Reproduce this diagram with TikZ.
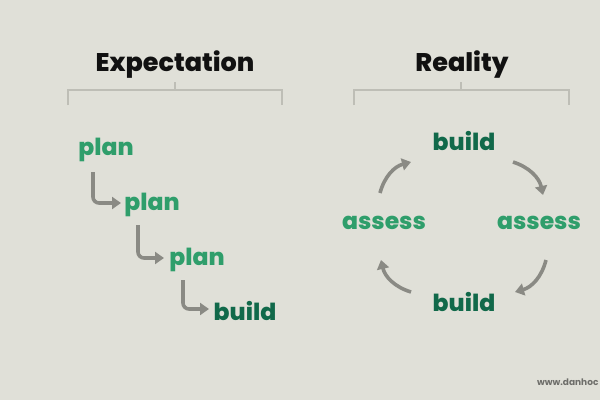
\documentclass[tikz,border=0pt]{standalone}
\usepackage{fontspec}
\setmainfont{Poppins}
\newfontfamily\heavyfont{Poppins ExtraBold}
\usetikzlibrary{arrows.meta}
\definecolor{dhBack}{HTML}{E0E0D8}
\definecolor{dhGreen}{HTML}{2F9E6B}
\definecolor{dhDark}{HTML}{11694A}
\definecolor{dhArrow}{HTML}{8A8A84}
\definecolor{dhRule}{HTML}{BEBEB6}
\definecolor{dhInk}{HTML}{111111}
\tikzset{
  title/.style={text=dhInk, font=\fontsize{25.5}{30}\heavyfont},
  planword/.style={text=dhGreen, font=\fontsize{23.5}{28}\heavyfont},
  buildword/.style={text=dhDark, font=\fontsize{23.5}{28}\heavyfont},
  bracket/.style={draw=dhRule, line width=1.2pt},
  flow/.style={draw=dhArrow, line width=3.6pt, rounded corners=6pt,
    -{Triangle[length=9pt,width=12pt]}},
  cycle/.style={draw=dhArrow, line width=3.6pt, bend left=30,
    -{Triangle[length=9pt,width=12pt]}}
}

\begin{document}
\begin{tikzpicture}[x=1pt, y=1pt]
    \fill[dhBack] (0,0) rectangle (600,400);
    \useasboundingbox (0,0) rectangle (600,400);

    % headings
    \node[title] (expect) at (175,335) {Expectation};
    \node[title] (real) at (462,335) {Reality};
    \draw[bracket] (68,295) |- (282,310) -- (282,295);
    \draw[bracket] (175,310) -- (175,318);
    \draw[bracket] (354,295) |- (569,310) -- (569,295);
    \draw[bracket] (461,310) -- (461,318);

    % expectation: a staircase
    \node[planword] (plan1) at (106,250) {plan};
    \node[planword] (plan2) at (152,195) {plan};
    \node[planword] (plan3) at (197,140) {plan};
    \node[buildword] (build1) at (245,89) {build};
    \draw[flow] ([shift={(-13,-22)}]plan1.center) |- ([shift={(-31,2)}]plan2.center);
    \draw[flow] ([shift={(-14,-20)}]plan2.center) |- ([shift={(-33,2)}]plan3.center);
    \draw[flow] ([shift={(-14,-20)}]plan3.center) |- ([shift={(-36,2)}]build1.center);

    % reality: a loop
    \node[buildword] (buildT) at (464,259) {build};
    \node[planword] (assessL) at (384,177) {assess};
    \node[planword] (assessR) at (539,177) {assess};
    \node[buildword] (buildB) at (464,98) {build};
    \draw[cycle] ([shift={(-4,30)}]assessL.center) to ([shift={(-53,-21)}]buildT.center);
    \draw[cycle] ([shift={(49,-21)}]buildT.center) to ([shift={(4,28)}]assessR.center);
    \draw[cycle] ([shift={(7,-37)}]assessR.center) to ([shift={(51,10)}]buildB.center);
    \draw[cycle] ([shift={(-53,10)}]buildB.center) to ([shift={(-3,-37)}]assessL.center);

    \node[text=dhArrow!80!black, font=\fontsize{9}{11}\selectfont\bfseries, anchor=east] (site) at (602,18) {www.danhoc};
\end{tikzpicture}
\end{document}
